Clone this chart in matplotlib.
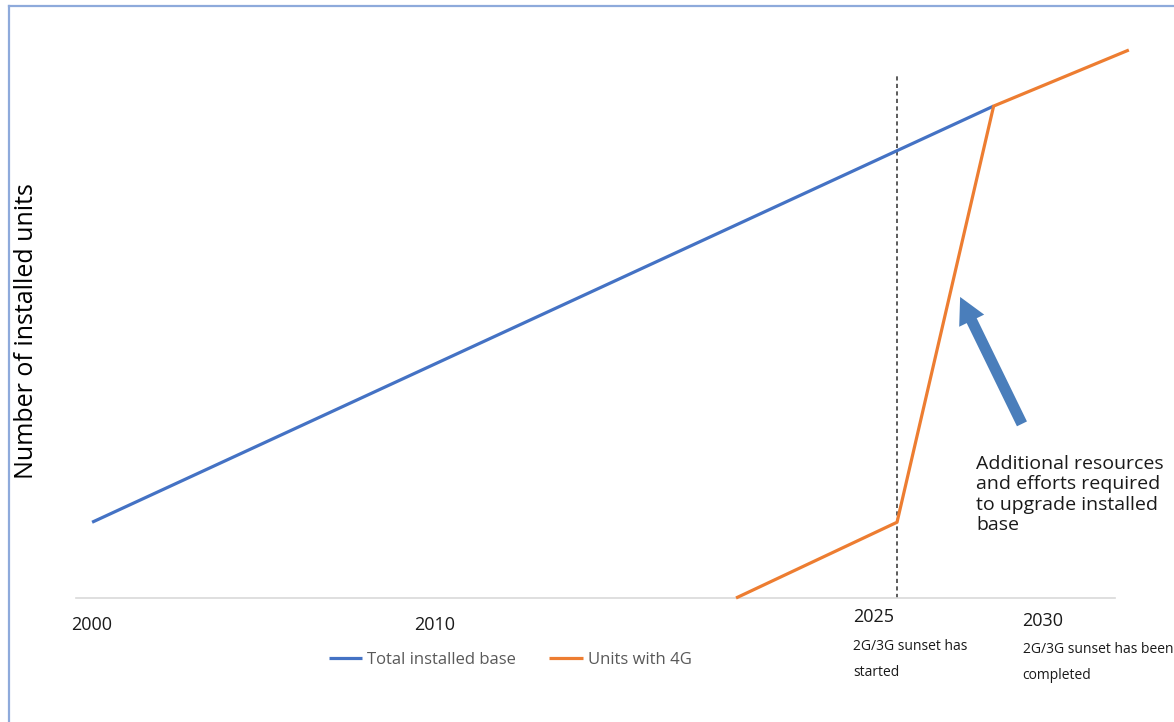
import matplotlib
matplotlib.use("Agg")
import matplotlib.pyplot as plt
from matplotlib.lines import Line2D
from matplotlib.patches import FancyArrowPatch
from matplotlib import transforms

plt.rcParams["font.family"] = ["Open Sans", "DejaVu Sans"]

# data (arbitrary units)
total_years = [2000, 2028]
total_units = [15.4, 100.0]
g4_years = [2020, 2025, 2028, 2032.2]
g4_units = [0.0, 15.4, 100.0, 111.4]
sunset_year = 2025
tick_labels = ["2000", "2010", "2025", "2030"]
sub_labels = ["2G/3G sunset has\nstarted", "2G/3G sunset has been\ncompleted"]

BLUE = "#4472C4"
ORANGE = "#ED7D31"
W, H = 1174, 722

fig = plt.figure(figsize=(W / 100, H / 100), dpi=100)
ax = fig.add_axes([76 / W, 1 - 598 / H, (1115 - 76) / W, (598 - 20) / H])
ax.set_xlim(1999.5, 2031.77)
ax.set_ylim(0, 117.5)

ax.plot(total_years, total_units, color=BLUE, lw=2.3, solid_capstyle="butt",
        label="Total installed base", zorder=3)
ax.plot(g4_years, g4_units, color=ORANGE, lw=2.3, solid_capstyle="butt",
        label="Units with 4G", clip_on=False, zorder=4)
ax.vlines(sunset_year, 0, 106.3, colors="#404040", lw=1.2,
          linestyles=(0, (2.5, 2)), zorder=2)

for s in ["top", "right", "left"]:
    ax.spines[s].set_visible(False)
ax.spines["bottom"].set_color("#d9d9d9")
ax.spines["bottom"].set_linewidth(1.2)
ax.set_xticks([])
ax.set_yticks([])

# category labels under the axis
tr = transforms.blended_transform_factory(ax.transData, fig.transFigure)
ax.text(2000, 1 - 625 / H, tick_labels[0], transform=tr, ha="center", va="center",
        fontsize=13, color="#1a1a1a")
ax.text(2010, 1 - 625 / H, tick_labels[1], transform=tr, ha="left", va="center",
        fontsize=13, color="#1a1a1a")
ax.text(2023.64, 1 - 617 / H, tick_labels[2], transform=tr, ha="left", va="center",
        fontsize=13, color="#1a1a1a")
ax.text(2028.9, 1 - 621 / H, tick_labels[3], transform=tr, ha="left", va="center",
        fontsize=13, color="#1a1a1a")
ax.text(2023.64, 1 - 639 / H, sub_labels[0], transform=tr, ha="left", va="top",
        fontsize=10, color="#1a1a1a", linespacing=2.0)
ax.text(2028.9, 1 - 642 / H, sub_labels[1], transform=tr, ha="left", va="top",
        fontsize=10, color="#1a1a1a", linespacing=2.0)

# annotation arrow and text
arrow = FancyArrowPatch((2028.88, 35.4), (2026.96, 61.2),
                        arrowstyle="simple,head_width=2.0,head_length=1.9,tail_width=0.8",
                        mutation_scale=10, color="#4A7EBB", shrinkA=0, shrinkB=0,
                        lw=0, zorder=5)
ax.add_patch(arrow)
ax.text(2027.45, 29.0, "Additional resources\nand efforts required\nto upgrade installed\nbase",
        ha="left", va="top", fontsize=14, color="#1a1a1a", linespacing=1.15)

fig.text(27 / W, 1 - 331 / H, "Number of installed units", rotation=90,
         ha="center", va="center", fontsize=18, color="#000000")

leg = fig.legend(loc="center", bbox_to_anchor=(510 / W, 1 - 660 / H), ncol=2,
                 frameon=False, fontsize=12, handlelength=2.0, columnspacing=2.0,
                 handletextpad=0.3)
for t in leg.get_texts():
    t.set_color("#595959")

# outer frame (cropped at right and bottom)
frame = "#8EAADB"
fig.add_artist(Line2D([9 / W, 9 / W], [0, 1 - 6 / H], color=frame, lw=1.6,
                      transform=fig.transFigure))
fig.add_artist(Line2D([9 / W, 1], [1 - 6 / H, 1 - 6 / H], color=frame, lw=1.6,
                      transform=fig.transFigure))

fig.savefig("out.png", dpi=100)
